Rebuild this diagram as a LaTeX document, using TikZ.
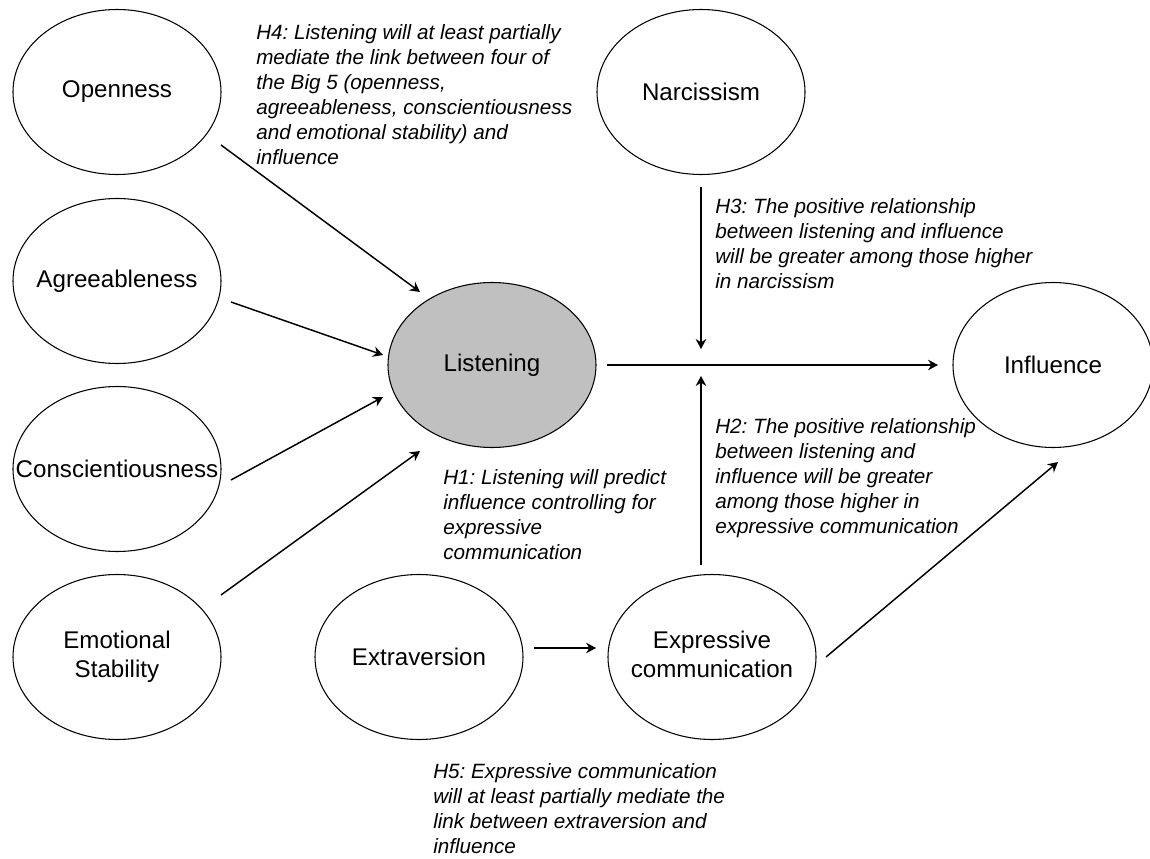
\documentclass[tikz,border=0pt]{standalone}
\usepackage{fontspec}
\setmainfont{Liberation Sans}
\usetikzlibrary{shapes.geometric,arrows.meta,calc}
\definecolor{listgray}{RGB}{192,192,192}
\newcommand{\oneline}[1]{\makebox[0pt]{#1}}
\newcommand{\twoline}[2]{\makebox[0pt]{\begin{tabular}{@{}c@{}}#1\\#2\end{tabular}}}
\frenchspacing
\begin{document}
\begin{tikzpicture}[x=0.75pt,y=-0.75pt,
  var/.style={ellipse, draw=black, line width=0.8pt, minimum width=156pt,
    minimum height=123.75pt, inner sep=0pt, outer sep=0pt,
    font=\fontsize{18.1}{22.1}\selectfont},
  hyp/.style={anchor=north west, align=left, inner sep=0pt,
    font=\itshape\fontsize{15.5}{18.75}\selectfont},
  arr/.style={line width=1.1pt, -{Stealth[length=7.5pt,width=8pt,inset=2.5pt]}}
]
\useasboundingbox (0,0) rectangle (1150,859);

% variables
\node[var] (open)  at (117,92)  {\oneline{Openness}};
\node[var] (agree) at (117,281) {\oneline{Agreeableness}};
\node[var] (consc) at (117,469) {\oneline{Conscientiousness}};
\node[var] (emot)  at (117,657) {\twoline{Emotional}{Stability}};
\node[var] (narc)  at (701,92)  {\oneline{Narcissism}};
\node[var, fill=listgray] (listen) at (492,365) {\oneline{Listening}};
\node[var, minimum width=150pt] (infl) at (1053,365) {\oneline{Influence}};
\node[var] (extra) at (419,657) {\oneline{Extraversion}};
\node[var] (expr)  at (712,657) {\twoline{Expressive}{communication}};

\coordinate (mod) at (701,365);

% connectors
\draw[arr] ($(open)+(104,53)$)   -- ($(listen)+(-72,-73)$);
\draw[arr] ($(agree)+(114,21)$)  -- ($(listen)+(-109,-10)$);
\draw[arr] ($(consc)+(114,11)$)  -- ($(listen)+(-109,32)$);
\draw[arr] ($(emot)+(104,-62)$)  -- ($(listen)+(-72,86)$);
\draw[arr] ($(listen)+(115,0)$)  -- ($(infl)+(-115,0)$);
\draw[arr] ($(narc)+(0,95)$)     -- ($(mod)+(0,-16)$);
\draw[arr] ($(expr)+(-11,-92)$)  -- ($(mod)+(0,11)$);
\draw[arr] ($(extra)+(115,-9)$)  -- ($(expr)+(-116,-9)$);
\draw[arr] ($(expr)+(114,0)$)    -- ($(infl)+(5,97)$);

% hypotheses
\node[hyp] (h4) at (256,24.5) {H4: Listening will at least partially\\mediate the link between four of\\the Big 5 (openness,\\agreeableness, conscientiousness\\and emotional stability) and\\influence};
\node[hyp] (h3) at (715,198.5) {H3: The positive relationship\\between listening and influence\\will be greater among those higher\\in narcissism};
\node[hyp] (h2) at (715,418.5) {H2: The positive relationship\\between listening and\\influence will be greater\\among those higher in\\expressive communication};
\node[hyp] (h1) at (443,469.5) {H1: Listening will predict\\influence controlling for\\expressive\\communication};
\node[hyp] (h5) at (433,763.5) {H5: Expressive communication\\will at least partially mediate the\\link between extraversion and\\influence};
\end{tikzpicture}
\end{document}
